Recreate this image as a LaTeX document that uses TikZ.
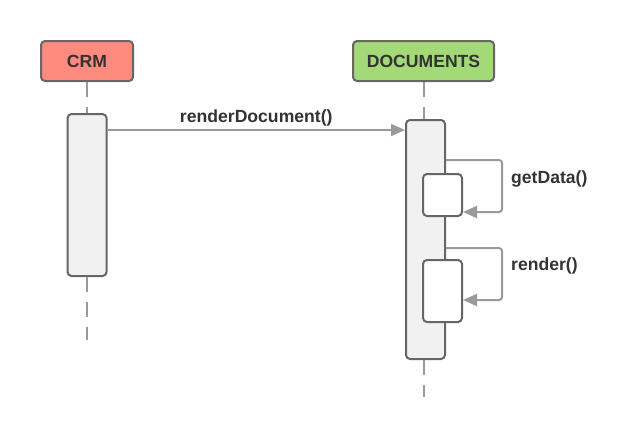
\documentclass[tikz,border=0pt]{standalone}
\usepackage{fontspec}
\setmainfont{Liberation Sans}
\usetikzlibrary{positioning,arrows.meta}

\definecolor{crmred}{HTML}{FF8A7E}
\definecolor{docgreen}{HTML}{A3D977}
\definecolor{boxgray}{HTML}{666666}
\definecolor{linegray}{HTML}{9A9A9A}
\definecolor{actgray}{HTML}{F1F1F1}
\definecolor{txtgray}{HTML}{333333}

\tikzset{
  head/.style={draw=boxgray, line width=2pt, rounded corners=4pt,
    minimum height=40pt, text=txtgray},
  act/.style={draw=boxgray, fill=actgray, line width=2pt, rounded corners=4pt,
    minimum width=39pt},
  subact/.style={act, fill=white},
  life/.style={draw=linegray, line width=2pt, dash pattern=on 15pt off 10pt},
  msg/.style={draw=linegray, line width=2pt,
    -{Triangle[length=14pt,width=12pt]}},
  lbl/.style={text=txtgray, inner sep=0pt},
}

\begin{document}
\begin{tikzpicture}[x=1pt, y=-1pt,
  every node/.append style={font=\fontsize{17.6}{20}\selectfont\bfseries}]

  \useasboundingbox (0,0) rectangle (628,440);

  % Define nodes

  % Heads
  \node[head, fill=crmred, minimum width=92pt]    (crm)  at (87,61)    {CRM}; %
  \node[head, fill=docgreen, minimum width=141pt] (docs) at (423.5,61) {DOCUMENTS}; %

  % Activations
  \node[act, below=31pt of crm, minimum height=162pt]               (crmact) {}; %
  \node[act, below=37pt of docs, xshift=2pt, minimum height=239pt]  (docact) {}; %

  % Self calls
  \node[subact, minimum height=42pt] (gdact) at (442.5,195) {}; %
  \node[subact, minimum height=62pt] (rdact) at (442.5,291) {}; %

  % Lifeline ends
  \coordinate[below=63pt of crmact] (crmend); %
  \coordinate (docend) at (423.5,397); %

  % Lifelines
  \draw[life] (crm) -- (crmact);
  \draw[life] (crmact) -- (crmend);
  \draw[life] (docs) -- (docs |- docact.north);
  \draw[life] (docact.south -| docs) -- (docend);

  % Messages
  \coordinate (rdout) at ([yshift=-17pt]crmact.north east); %
  \draw[msg] (rdout) -- (rdout -| docact.west)
    node[midway, above, text=txtgray] {renderDocument()};

  \coordinate (gdout) at ([yshift=-41pt]docact.north east); %
  \draw[msg, rounded corners=3pt] (gdout) -- ++(56,0) |- ([yshift=5pt]gdact.south east);
  \node[lbl, anchor=west] (gdlbl) at (511,179) {getData()}; %

  \coordinate (rnout) at ([yshift=-129pt]docact.north east); %
  \draw[msg, rounded corners=3pt] (rnout) -- ++(56,0) |- ([yshift=23pt]rdact.south east);
  \node[lbl, anchor=west] (rnlbl) at (511,265.5) {render()}; %

\end{tikzpicture}
\end{document}
